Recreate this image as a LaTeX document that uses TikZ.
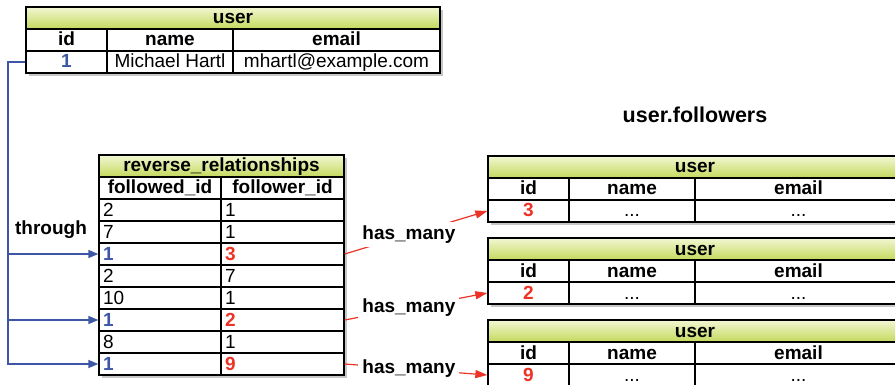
\documentclass[tikz,border=0pt]{standalone}
\usepackage{fontspec}
\setmainfont{Liberation Sans}
\usetikzlibrary{positioning, arrows.meta, shadows}
\definecolor{headtop}{HTML}{F3F7D3}
\definecolor{headbot}{HTML}{C3D95C}
\definecolor{idblue}{HTML}{3D56A6}
\definecolor{fkred}{HTML}{EC3326}
\newcommand{\idb}[1]{\textcolor{idblue}{\textbf{#1}}}
\newcommand{\fkr}[1]{\textcolor{fkred}{\textbf{#1}}}

\begin{document}
\begin{tikzpicture}[x=1pt, y=-1pt,
    font=\fontsize{19}{21}\selectfont,
    cell/.style={draw, line width=1.3pt, fill=white, inner sep=0pt, minimum height=22pt,
      text height=14.5pt, text depth=2.5pt,
      drop shadow={fill=black!22, opacity=1, shadow xshift=3pt, shadow yshift=-3pt}},
    title/.style={cell, top color=headtop, bottom color=headbot, font=\fontsize{19}{21}\selectfont\bfseries},
    headcell/.style={cell, font=\fontsize{19}{21}\selectfont\bfseries},
    leftcell/.style={cell, text width=114pt, inner xsep=4pt, align=left},
    through/.style={draw=idblue, line width=1.3pt, -{Triangle[length=10pt, width=8pt]}},
    hasmany/.style={draw=fkred, line width=1.2pt, -{Triangle[length=12pt, width=8pt]}},
    label/.style={fill=white, inner xsep=4pt, font=\fontsize{19}{21}\selectfont\bfseries}]
  \useasboundingbox (0,0) rectangle (895,385);

  % the user
  \node[title, minimum width=414pt] (ut) at (233,18) {user};
  \node[headcell, minimum width=81pt]  (uh1) at (66.5,40) {id};
  \node[headcell, minimum width=126pt] (uh2) at (170,40) {name};
  \node[headcell, minimum width=207pt] (uh3) at (336.5,40) {email};
  \node[cell, minimum width=81pt]  (uid)   at (66.5,62) {\idb{1}};
  \node[cell, minimum width=126pt] (uname) at (170,62) {Michael Hartl};
  \node[cell, minimum width=207pt] (umail) at (336.5,62) {mhartl@example.com};

  % reverse_relationships table
  \node[title, minimum width=245pt] (rt) at (221.5,166) {reverse\_relationships};
  \node[headcell, minimum width=122pt] (rh1) at (160,188) {followed\_id};
  \node[headcell, minimum width=123pt] (rh2) at (282.5,188) {follower\_id};
  \foreach \a/\b [count=\i] in {2/1, 7/1, \idb{1}/\fkr{3}, 2/7, 10/1, \idb{1}/\fkr{2}, 8/1, \idb{1}/\fkr{9}} {
    \node[leftcell] (rra\i) at (160,188+22*\i) {\a};
    \node[leftcell, text width=115pt] (rrb\i) at (282.5,188+22*\i) {\b};
  }

  % user.followers
  \node[font=\fontsize{21.5}{23}\selectfont\bfseries] (fl) at (695,115) {user.followers};
  \foreach \n/\y/\v in {1/156/3, 2/238/2, 3/320/9} {
    \node[title, minimum width=414pt] (ft\n) at (695,\y+11) {user};
    \node[headcell, minimum width=81pt]  (fh\n a) at (528.5,\y+33) {id};
    \node[headcell, minimum width=126pt] (fh\n b) at (632,\y+33) {name};
    \node[headcell, minimum width=207pt] (fh\n c) at (798.5,\y+33) {email};
    \node[cell, minimum width=81pt]  (fid\n)   at (528.5,\y+55) {\fkr{\v}};
    \node[cell, minimum width=126pt] (fname\n) at (632,\y+55) {...};
    \node[cell, minimum width=207pt] (fmail\n) at (798.5,\y+55) {...};
  }

  % connectors
  \coordinate (trunk) at (8,62);
  \node[font=\fontsize{19}{21}\selectfont\bfseries] (thr) at (51,230) {through};
  \foreach \r in {3,6,8}
    \draw[through] (uid.west) -- (trunk) |- (rra\r.west);
  \foreach \r/\n in {3/1, 6/2, 8/3}
    \draw[hasmany] (rrb\r.east) -- node[label, pos=0.45] {has\_many} (fid\n.west);
\end{tikzpicture}
\end{document}
